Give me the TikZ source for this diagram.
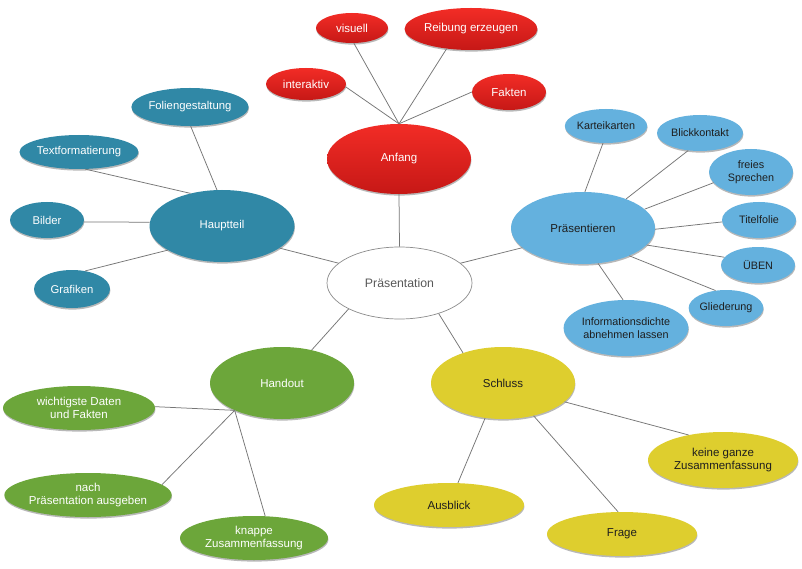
\documentclass[tikz,border=0pt]{standalone}
\usepackage{fontspec}
\setmainfont{Liberation Sans}
\usetikzlibrary{shapes.geometric,shadows}
\definecolor{redA}{RGB}{242,44,38}
\definecolor{redB}{RGB}{198,24,22}
\definecolor{tealC}{RGB}{48,136,166}
\definecolor{blueC}{RGB}{100,177,222}
\definecolor{greenC}{RGB}{108,166,58}
\definecolor{yellowC}{RGB}{222,206,46}
\definecolor{lineC}{RGB}{118,118,118}
\definecolor{darkT}{RGB}{30,30,30}
\begin{document}
\begin{tikzpicture}[x=1pt,y=-1pt,
  bub/.style 2 args={ellipse, minimum width=#1pt, minimum height=#2pt, inner sep=0pt, align=center},
  shad/.style={drop shadow={shadow xshift=0.4pt, shadow yshift=-1.6pt, opacity=0.28, fill=black}},
  redN/.style={shad, top color=redA, bottom color=redB, draw=none, text=white, font=\fontsize{11.5}{13.5}\selectfont},
  tealN/.style={shad, fill=tealC, text=white, font=\fontsize{11.3}{13.5}\selectfont},
  blueN/.style={shad, fill=blueC, text=darkT, font=\fontsize{10.8}{13.3}\selectfont},
  greenN/.style={shad, fill=greenC, text=white, font=\fontsize{11.5}{13.5}\selectfont},
  yellowN/.style={shad, fill=yellowC, text=darkT, font=\fontsize{11.5}{13.5}\selectfont},
  centerN/.style={fill=white, draw=black!45, line width=0.7pt, text=black!65, font=\fontsize{12.3}{14}\selectfont},
  conn/.style={draw=lineC, line width=0.75pt}]
\useasboundingbox (0,0) rectangle (802,569);
\fill[white] (0,0) rectangle (802,569);

% center
\node[bub={145}{72}, centerN] (praes) at (399.5,283) {Präsentation};

% Anfang
\node[bub={144}{70}, redN] (anfang) at (399,159) {Anfang};
\node[bub={72}{30}, redN] (visuell) at (352,28) {visuell};
\node[bub={120}{42}, redN] (reibung) at (471,29) {Reibung erzeugen};
\node[bub={80}{32}, redN] (interaktiv) at (306,84) {interaktiv};
\node[bub={74}{36}, redN] (fakten) at (509,92) {Fakten};

% Hauptteil
\node[bub={145}{72}, tealN] (haupt) at (222,226) {Hauptteil};
\node[bub={112}{38}, tealN] (folien) at (190,107) {Foliengestaltung};
\node[bub={116}{34}, tealN] (textf) at (79,152) {Textformatierung};
\node[bub={74}{36}, tealN] (bilder) at (47,220) {Bilder};
\node[bub={76}{38}, tealN] (grafiken) at (72,289) {Grafiken};

% Praesentieren
\node[bub={144}{72}, blueN, font=\fontsize{11.5}{13.5}\selectfont] (praesentieren) at (583,228) {Präsentieren};
\node[bub={82}{34}, blueN] (kartei) at (606,126) {Karteikarten};
\node[bub={86}{36}, blueN] (blick) at (700,133) {Blickkontakt};
\node[bub={84}{46}, blueN] (freies) at (751,172) {freies\\Sprechen};
\node[bub={74}{36}, blueN] (titel) at (759,220) {Titelfolie};
\node[bub={74}{36}, blueN] (ueben) at (758,265) {ÜBEN};
\node[bub={74}{36}, blueN] (glied) at (726,308) {Gliederung};
\node[bub={116}{56}, blueN] (info) at (626,328) {Informationsdichte\\abnehmen lassen};

% Handout
\node[bub={144}{72}, greenN] (handout) at (282,383) {Handout};
\node[bub={152}{44}, greenN] (wichtig) at (79,408) {wichtigste Daten\\und Fakten};
\node[bub={160}{44}, greenN] (nach) at (88,495) {nach\\Präsentation ausgeben};
\node[bub={148}{44}, greenN] (knappe) at (254,538) {knappe\\Zusammenfassung};

% Schluss
\node[bub={144}{72}, yellowN] (schluss) at (503,383) {Schluss};
\node[bub={150}{56}, yellowN] (keine) at (723,460) {keine ganze\\Zusammenfassung};
\node[bub={150}{44}, yellowN] (ausblick) at (449,505) {Ausblick};
\node[bub={150}{44}, yellowN] (frage) at (622,534) {Frage};

% connectors
\draw[conn] (anfang.north) -- (visuell.-83);
\draw[conn] (anfang.north) -- (reibung.-141);
\draw[conn] (anfang.north) -- (interaktiv.-4);
\draw[conn] (anfang.north) -- (fakten.180);
\draw[conn] (anfang.south) -- (praes.north);

\draw[conn] (haupt.98) -- (folien.-88);
\draw[conn] (haupt.134) -- (textf.-70);
\draw[conn] (haupt.177) -- (bilder.-3);
\draw[conn] (haupt.204) -- (grafiken.54);
\draw[conn] (haupt.-21) -- (praes.162);

\draw[conn] (praesentieren.87) -- (kartei.-100);
\draw[conn] (praesentieren.34) -- (blick.-124);
\draw[conn] (praesentieren.17.6) -- (freies.196);
\draw[conn] (praesentieren.-1) -- (titel.183);
\draw[conn] (praesentieren.-15) -- (ueben.167);
\draw[conn] (praesentieren.-31.5) -- (glied.121);
\draw[conn] (praesentieren.-67) -- (info.96);
\draw[conn] (praesentieren.198) -- (praes.18);

\draw[conn] (handout.210) -- (wichtig.1.5);
\draw[conn] (handout.210) -- (nach.8.5);
\draw[conn] (handout.210) -- (knappe.63);
\draw[conn] (handout.48.5) -- (praes.207.7);

\draw[conn] (schluss.-17) -- (keine.144);
\draw[conn] (schluss.-117) -- (ausblick.68);
\draw[conn] (schluss.-47) -- (frage.100);
\draw[conn] (schluss.143) -- (praes.-38);
\end{tikzpicture}
\end{document}
